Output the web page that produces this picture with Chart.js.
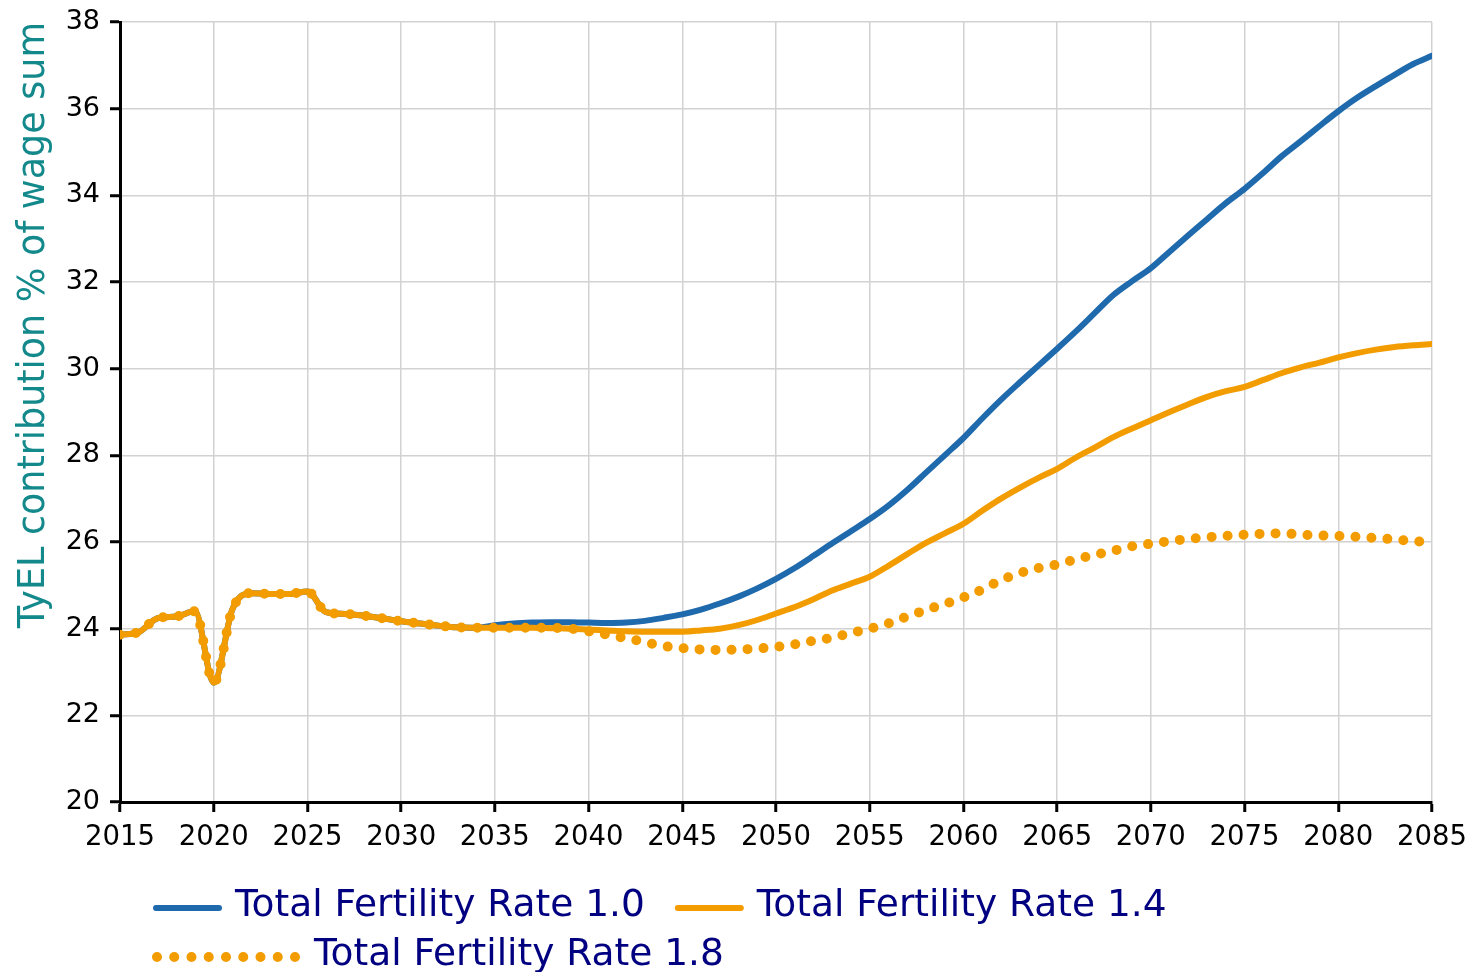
<!DOCTYPE html>
<html>
<head>
<meta charset="utf-8">
<title>TyEL contribution</title>
<script src="https://cdn.jsdelivr.net/npm/chart.js@4.4.1/dist/chart.umd.min.js"></script>
<style>
  html, body { margin: 0; padding: 0; background: #fff; }
  #wrap { width: 1470px; height: 972px; }
</style>
</head>
<body>
<div id="wrap"><canvas id="myChart" width="1470" height="972"></canvas></div>
<script>
// years 2015..2085
const years = [];
for (let y = 2015; y <= 2085; y++) years.push(y);

const seriesNames = ["Total Fertility Rate 1.0", "Total Fertility Rate 1.4", "Total Fertility Rate 1.8"];

const tfr10 = [
    23.86, 23.92, 24.24, 24.28, 24.40, 22.75, 24.45, 24.82, 24.80, 24.80,
    24.86, 24.38, 24.34, 24.30, 24.24, 24.17, 24.12, 24.07, 24.03, 24.02,
    24.08, 24.12, 24.14, 24.15, 24.15, 24.14, 24.13, 24.14, 24.18, 24.25,
    24.33, 24.44, 24.58, 24.74, 24.93, 25.15, 25.40, 25.68, 25.97, 26.25,
    26.53, 26.84, 27.20, 27.60, 28.00, 28.40, 28.85, 29.28, 29.68, 30.07,
    30.46, 30.86, 31.28, 31.70, 32.02, 32.32, 32.70, 33.08, 33.45, 33.82,
    34.15, 34.52, 34.91, 35.25, 35.60, 35.94, 36.25, 36.52, 36.78, 37.03,
    37.22
];

const tfr14 = [
    23.86, 23.92, 24.24, 24.28, 24.40, 22.75, 24.45, 24.82, 24.80, 24.80,
    24.86, 24.38, 24.34, 24.30, 24.24, 24.17, 24.12, 24.07, 24.03, 24.02,
    24.02, 24.02, 24.02, 24.01, 24.00, 23.98, 23.96, 23.94, 23.93, 23.93,
    23.93, 23.96, 24.00, 24.08, 24.20, 24.35, 24.50, 24.68, 24.88, 25.04,
    25.20, 25.45, 25.72, 25.98, 26.20, 26.42, 26.72, 27.00, 27.25, 27.48,
    27.69, 27.95, 28.18, 28.42, 28.62, 28.81, 29.00, 29.18, 29.35, 29.48,
    29.58, 29.74, 29.90, 30.03, 30.14, 30.26, 30.36, 30.44, 30.50, 30.54,
    30.57
];

const tfr18 = [
    23.86, 23.92, 24.24, 24.28, 24.40, 22.75, 24.45, 24.82, 24.80, 24.80,
    24.86, 24.38, 24.34, 24.30, 24.24, 24.17, 24.12, 24.07, 24.03, 24.02,
    24.02, 24.02, 24.02, 24.02, 24.00, 23.94, 23.86, 23.78, 23.69, 23.60,
    23.55, 23.52, 23.51, 23.52, 23.54, 23.58, 23.64, 23.72, 23.79, 23.90,
    24.00, 24.12, 24.28, 24.43, 24.57, 24.72, 24.90, 25.12, 25.28, 25.40,
    25.48, 25.60, 25.70, 25.80, 25.90, 25.96, 26.02, 26.07, 26.11, 26.14,
    26.17, 26.19, 26.20, 26.17, 26.15, 26.14, 26.12, 26.09, 26.06, 26.02,
    25.99
];

const yTicks = [20, 22, 24, 26, 28, 30, 32, 34, 36, 38];
const xTicks = [2015, 2020, 2025, 2030, 2035, 2040, 2045, 2050, 2055, 2060, 2065, 2070, 2075, 2080, 2085];

const blue = "#1f69ad";
const orange = "#f39c00";
const fontFam = '"DejaVu Sans", Verdana, sans-serif';

const toPoints = (vals) => vals.map((v, i) => ({ x: years[i], y: v }));

// legend drawn under the plot, two rows like the original
const bottomLegend = {
    id: "bottomLegend",
    afterDraw(chart) {
        const ctx = chart.ctx;
        const ds = chart.data.datasets;
        const rows = [
            { y: 908, x: 156, items: [0, 1] },
            { y: 957, x: 157, items: [2] },
        ];
        ctx.save();
        ctx.font = "37.5px " + fontFam;
        ctx.textBaseline = "middle";
        rows.forEach((row) => {
            let x = row.x;
            row.items.forEach((i) => {
                const d = ds[i];
                const w = d.borderDash ? 139 : 63;
                ctx.beginPath();
                ctx.strokeStyle = d.borderColor;
                ctx.lineWidth = d.borderDash ? 10 : 6;
                ctx.lineCap = "round";
                ctx.setLineDash(d.borderDash ? [0, 17.25] : []);
                ctx.moveTo(x, row.y);
                ctx.lineTo(x + w, row.y);
                ctx.stroke();
                ctx.setLineDash([]);
                x += w + (d.borderDash ? 18 : 16);
                ctx.fillStyle = "#000080";
                ctx.fillText(d.label, x, row.y - 2);
                x += ctx.measureText(d.label).width + 33;
            });
        });
        ctx.restore();
    },
};

const ctx = document.getElementById("myChart");
const myChart = new Chart(ctx, {
    type: "line",
    data: {
        datasets: [
            {
                label: seriesNames[0],
                data: toPoints(tfr10),
                borderColor: blue,
                backgroundColor: blue,
                borderWidth: 6,
                pointRadius: 0,
                cubicInterpolationMode: "monotone",
                borderCapStyle: "round",
                order: 3,
            },
            {
                label: seriesNames[1],
                data: toPoints(tfr14),
                borderColor: orange,
                backgroundColor: orange,
                borderWidth: 6,
                pointRadius: 0,
                cubicInterpolationMode: "monotone",
                borderCapStyle: "round",
                order: 2,
            },
            {
                label: seriesNames[2],
                data: toPoints(tfr18),
                borderColor: orange,
                backgroundColor: orange,
                borderWidth: 10,
                borderDash: [0, 16],
                borderCapStyle: "round",
                pointRadius: 0,
                cubicInterpolationMode: "monotone",
                order: 1,
            },
        ],
    },
    options: {
        responsive: false,
        animation: false,
        layout: {
            padding: { top: 22, right: 38, bottom: 122, left: 0 },
        },
        plugins: {
            legend: { display: false },
            tooltip: { enabled: false },
        },
        scales: {
            x: {
                type: "linear",
                min: 2015,
                max: 2085,
                afterBuildTicks: (scale) => {
                    scale.ticks = xTicks.map((v) => ({ value: v }));
                },
                afterFit: (scale) => {
                    scale.height = 48;
                    scale.paddingLeft = 0;
                    scale.paddingRight = 0;
                },
                ticks: {
                    color: "#000",
                    font: { family: fontFam, size: 27.5 },
                    padding: 9,
                    maxRotation: 0,
                    autoSkip: false,
                    callback: (v) => String(v),
                },
                grid: {
                    color: "#d2d2d2",
                    lineWidth: 1.5,
                    tickColor: "#000",
                    tickLength: 10,
                    tickWidth: 3,
                },
                border: { color: "#000", width: 3 },
            },
            y: {
                min: 20,
                max: 38,
                afterBuildTicks: (scale) => {
                    scale.ticks = yTicks.map((v) => ({ value: v }));
                },
                afterFit: (scale) => {
                    scale.width = 120;
                    scale.paddingTop = 0;
                    scale.paddingBottom = 0;
                },
                ticks: {
                    color: "#000",
                    font: { family: fontFam, size: 27 },
                    padding: 10,
                    autoSkip: false,
                },
                grid: {
                    color: "#d2d2d2",
                    lineWidth: 1.5,
                    tickColor: "#000",
                    tickLength: 10,
                    tickWidth: 3,
                },
                border: { color: "#000", width: 3 },
                title: {
                    display: true,
                    text: "TyEL contribution % of wage sum",
                    color: "#13898c",
                    align: "end",
                    font: { family: fontFam, size: 36.5 },
                    padding: { top: 13, bottom: 0 },
                },
            },
        },
    },
    plugins: [bottomLegend],
});
</script>
</body>
</html>
